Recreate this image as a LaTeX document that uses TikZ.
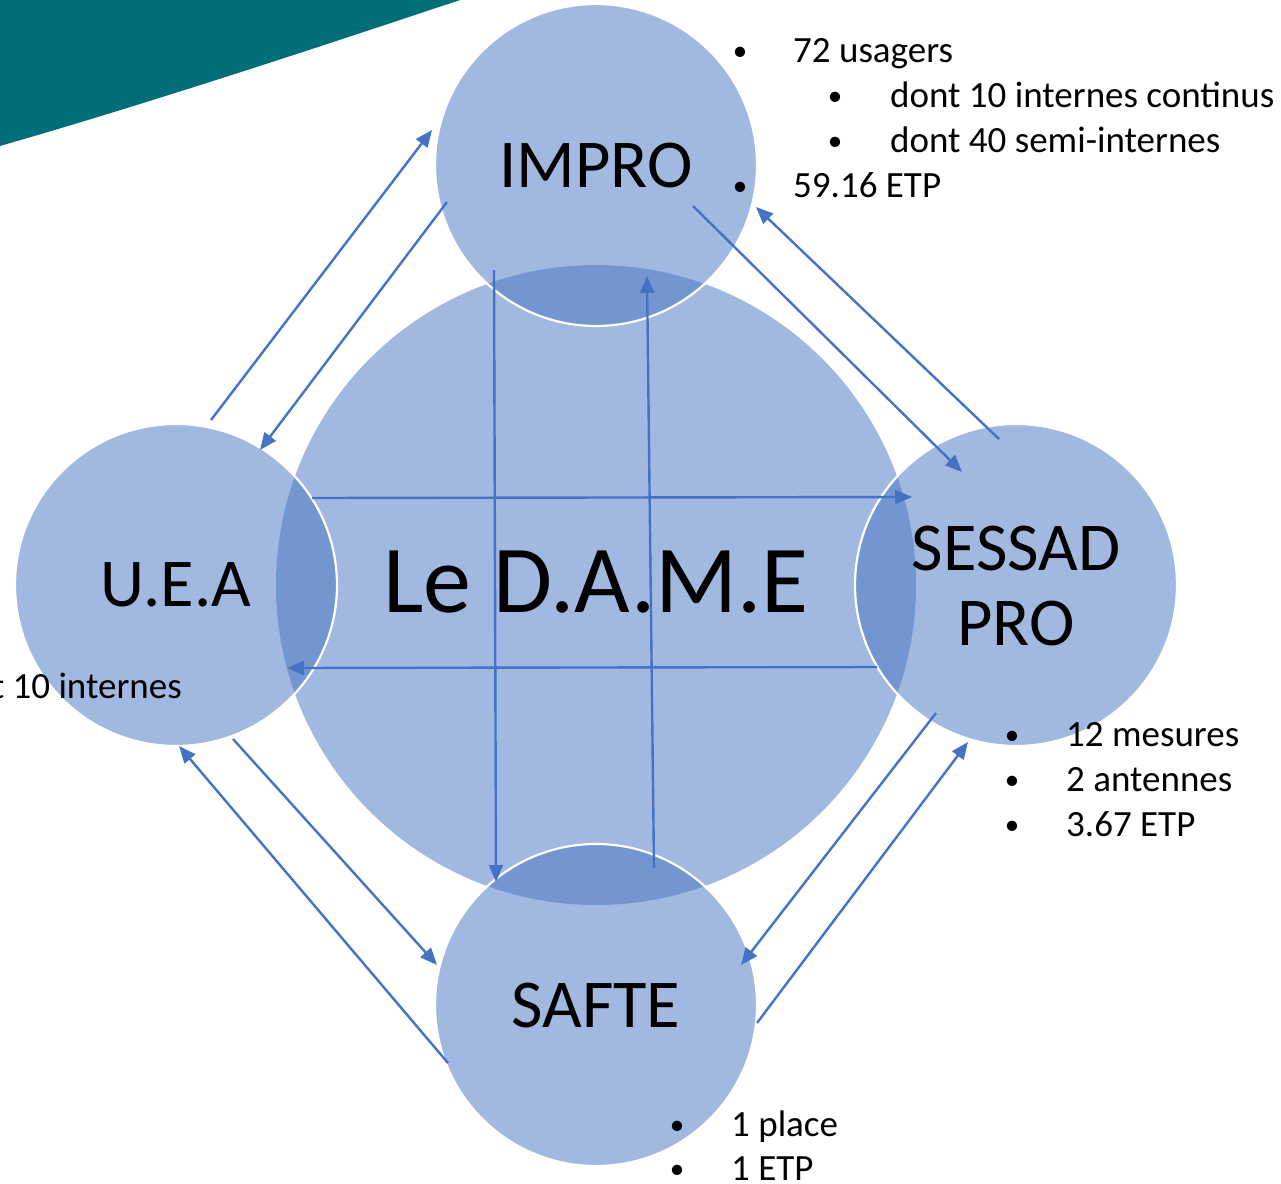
\documentclass[tikz,border=0pt]{standalone}
\usepackage{fontspec}
\setmainfont{Carlito}
\usetikzlibrary{arrows.meta,calc}
\definecolor{circfill}{RGB}{161,184,225}
\definecolor{overlapfill}{RGB}{115,150,208}
\definecolor{arrowcol}{RGB}{68,114,196}
\definecolor{tealband}{RGB}{0,110,120}
\begin{document}
\begin{tikzpicture}[x=1pt,y=-1pt,
  bigdisc/.style={circle,inner sep=0pt,minimum size=640pt,fill=circfill},
  smalldisc/.style={circle,inner sep=0pt,minimum size=322pt,fill=circfill},
  rim/.style={draw=white,line width=2.2pt},
  link/.style={draw=arrowcol,line width=2.4pt,-{Triangle[length=17pt,width=14pt]}},
  label/.style={inner sep=0pt,anchor=base,font=\fontsize{68.5}{80}\selectfont},
  center label/.style={inner sep=0pt,anchor=base,font=\fontsize{96}{100}\selectfont},
  bullet/.style={inner sep=0pt,anchor=base,font=\fontsize{29}{44}\selectfont},
  item/.style={inner sep=0pt,anchor=base west,font=\fontsize{37}{44}\selectfont}]
\useasboundingbox (0,0) rectangle (1281,1183);
\fill[white] (0,0) rectangle (1281,1183);
% teal band
\fill[tealband] (0,-5) -- (475,-5) .. controls (340,40) and (160,100) .. (0,146) -- cycle;
% discs
\node[bigdisc] (dame) at (596,585) {};
\node[smalldisc] (impro) at (596,165) {};
\node[smalldisc] (uea) at (176,585) {};
\node[smalldisc] (sessad) at (1016,585) {};
\node[smalldisc] (safte) at (596,1005) {};
% overlaps
\begin{scope}
  \clip (dame.center) circle[radius=320pt];
  \foreach \n in {impro,uea,sessad,safte}
    \fill[overlapfill] (\n.center) circle[radius=161pt];
\end{scope}
\foreach \n in {impro,uea,sessad,safte}
  \draw[rim] (\n.center) circle[radius=161pt];
% connectors
\draw[link] ($(uea)+(35,-165)$) -- ($(impro)+(-164,-35)$);
\draw[link] ($(impro)+(-149,37)$) -- ($(uea)+(84,-135)$);
\draw[link] ($(impro)+(97,41)$) -- ($(sessad)+(-54,-113)$);
\draw[link] ($(sessad)+(-17,-146)$) -- ($(impro)+(160,42)$);
\draw[link] ($(uea)+(136,-87)$) -- ($(sessad)+(-104,-88)$);
\draw[link] ($(sessad)+(-139,82)$) -- ($(uea)+(111,83)$);
\draw[link] ($(impro)+(-102,105)$) -- ($(safte)+(-100,-123)$);
\draw[link] ($(safte)+(58,-137)$) -- ($(impro)+(51,111)$);
\draw[link] ($(uea)+(57,154)$) -- ($(safte)+(-159,-40)$);
\draw[link] ($(safte)+(-148,58)$) -- ($(uea)+(3,161)$);
\draw[link] ($(sessad)+(-80,128)$) -- ($(safte)+(145,-40)$);
\draw[link] ($(safte)+(161,18)$) -- ($(sessad)+(-48,157)$);
% labels
\node[label] (improtxt) at (596,187) {IMPRO};
\node[label] (ueatxt) at (176,606) {U.E.A};
\node[label] (sessadtxt) at (1016,570) {SESSAD};
\node[label] (protxt) at (1016,645) {PRO};
\node[label] (saftetxt) at (596,1027) {SAFTE};
\node[center label] (dametxt) at (596,612) {Le D.A.M.E};
% IMPRO details
\node[bullet] (b1) at (740,60) {•};
\node[item] (t1) at (793,62) {72 usagers};
\node[bullet] (b2) at (835,105) {•};
\node[item] (t2) at (890,107) {dont 10 internes continus};
\node[bullet] (b3) at (835,150) {•};
\node[item] (t3) at (890,152) {dont 40 semi-internes};
\node[bullet] (b4) at (740,195) {•};
\node[item] (t4) at (793,197) {59.16 ETP};
% UEA detail
\node[inner sep=0pt,anchor=base east,font=\fontsize{37}{44}\selectfont] (t5) at (182,698) {dont 10 internes};
% SESSAD details
\node[bullet] (b6) at (1012,744) {•};
\node[item] (t6) at (1066,746) {12 mesures};
\node[bullet] (b7) at (1012,789) {•};
\node[item] (t7) at (1066,791) {2 antennes};
\node[bullet] (b8) at (1012,834) {•};
\node[item] (t8) at (1066,836) {3.67 ETP};
% SAFTE details
\node[bullet] (b9) at (677,1134) {•};
\node[item] (t9) at (731,1136) {1 place};
\node[bullet] (b10) at (677,1178) {•};
\node[item] (t10) at (731,1180) {1 ETP};
\end{tikzpicture}
\end{document}
